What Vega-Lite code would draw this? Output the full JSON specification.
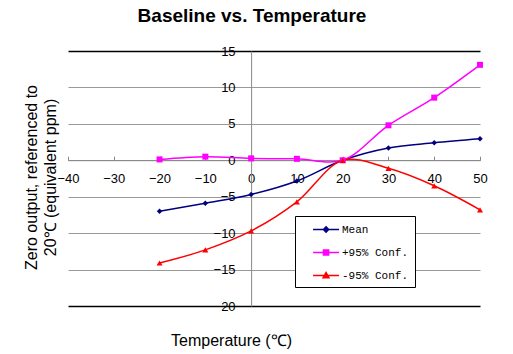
{
  "$schema": "https://vega.github.io/schema/vega-lite/v6.json",
  "width": 412,
  "height": 255,
  "autosize": {"type": "none"},
  "padding": {"left": 68, "top": 51, "right": 33, "bottom": 48},
  "background": "white",
  "title": {
    "text": "Baseline vs. Temperature",
    "font": "Liberation Sans",
    "fontSize": 19,
    "fontWeight": "bold",
    "color": "black",
    "anchor": "middle",
    "dx": -22,
    "baseline": "alphabetic",
    "offset": 4.5
  },
  "data": {
    "values": [
      {"t": -20, "v": -7.0, "s": "Mean"},
      {"t": -10, "v": -5.9, "s": "Mean"},
      {"t": 0, "v": -4.7, "s": "Mean"},
      {"t": 10, "v": -2.85, "s": "Mean"},
      {"t": 20, "v": 0, "s": "Mean"},
      {"t": 30, "v": 1.7, "s": "Mean"},
      {"t": 40, "v": 2.4, "s": "Mean"},
      {"t": 50, "v": 2.95, "s": "Mean"},
      {"t": -20, "v": 0.12, "s": "+95% Conf."},
      {"t": -10, "v": 0.5, "s": "+95% Conf."},
      {"t": 0, "v": 0.26, "s": "+95% Conf."},
      {"t": 10, "v": 0.2, "s": "+95% Conf."},
      {"t": 20, "v": 0, "s": "+95% Conf."},
      {"t": 30, "v": 4.8, "s": "+95% Conf."},
      {"t": 40, "v": 8.6, "s": "+95% Conf."},
      {"t": 50, "v": 13.1, "s": "+95% Conf."},
      {"t": -20, "v": -14.1, "s": "-95% Conf."},
      {"t": -10, "v": -12.3, "s": "-95% Conf."},
      {"t": 0, "v": -9.7, "s": "-95% Conf."},
      {"t": 10, "v": -5.7, "s": "-95% Conf."},
      {"t": 20, "v": 0, "s": "-95% Conf."},
      {"t": 30, "v": -1.1, "s": "-95% Conf."},
      {"t": 40, "v": -3.5, "s": "-95% Conf."},
      {"t": 50, "v": -6.8, "s": "-95% Conf."}
    ]
  },
  "encoding": {
    "x": {
      "field": "t",
      "type": "quantitative",
      "scale": {"domain": [-40, 50], "nice": false, "zero": false},
      "axis": {
        "orient": "bottom",
        "offset": -145.8,
        "values": [-40, -30, -20, -10, 0, 10, 20, 30, 40, 50],
        "grid": false,
        "title": "Temperature (℃)",
        "titleX": 163,
        "titleY": 180,
        "titleAlign": "center",
        "titleBaseline": "middle",
        "titleFont": "Liberation Sans",
        "titleFontSize": 16,
        "titleFontWeight": "normal",
        "titleColor": "black",
        "labelFont": "Liberation Sans",
        "labelFontSize": 13,
        "labelColor": "black",
        "labelFlush": false,
        "labelOverlap": false,
        "tickSize": -4,
        "tickColor": "#888888",
        "labelPadding": 16,
        "domainColor": "#888888"
      }
    },
    "y": {
      "field": "v",
      "type": "quantitative",
      "scale": {"domain": [-20, 15], "nice": false, "zero": false},
      "axis": {
        "orient": "left",
        "offset": -183.1,
        "values": [-20, -15, -10, -5, 0, 5, 10, 15],
        "grid": true,
        "gridColor": {"condition": {"test": "datum.value == 15 || datum.value == -20", "value": "black"}, "value": "#999999"},
        "gridWidth": {"condition": {"test": "datum.value == 15 || datum.value == -20", "value": 1.5}, "value": 1},
        "ticks": false,
        "labelPadding": 16,
        "labelFont": "Liberation Sans",
        "labelFontSize": 13,
        "labelColor": "black",
        "labelFlush": false,
        "labelOverlap": false,
        "domainColor": "#888888",
        "title": ["Zero output, referenced to", "20℃ (equivalent ppm)"],
        "titleX": -212,
        "titleY": 126,
        "titleAngle": -90,
        "titleAlign": "center",
        "titleBaseline": "bottom",
        "titleFont": "Liberation Sans",
        "titleFontSize": 16,
        "titleFontWeight": "normal",
        "titleLineHeight": 19,
        "titleColor": "black"
      }
    },
    "color": {
      "field": "s",
      "type": "nominal",
      "scale": {"domain": ["Mean", "+95% Conf.", "-95% Conf."], "range": ["#000080", "#FF00FF", "#FF0000"]},
      "legend": {
        "orient": "none",
        "legendX": 227,
        "legendY": 165,
        "title": null,
        "strokeColor": "black",
        "fillColor": "white",
        "padding": 6,
        "labelFont": "Liberation Mono",
        "labelFontSize": 11,
        "labelColor": "black",
        "labelExpr": "datum.label + '  '",
        "symbolSize": 169,
        "rowPadding": 9,
        "labelOffset": 26,
        "symbolStrokeWidth": 1.5,
        "symbolType": "M0.7,0H4.7",
        "encode": {
          "symbols": {
            "update": {
              "shape": {"signal": "datum.value === 'Mean' ? 'M0.7,0H4.7M2.7,-0.4L3.1,0L2.7,0.4L2.3,0Z' : datum.value === '+95% Conf.' ? 'M0.7,0H4.7M2.3,-0.4H3.1V0.4H2.3Z' : 'M0.7,0H4.7M2.7,-0.45L3.15,0.35H2.25Z'"},
              "fill": {"scale": "color", "field": "value"},
              "fillOpacity": {"value": 1},
              "size": {"value": 169}
            }
          }
        }
      }
    }
  },
  "layer": [
    {
      "mark": {"type": "line", "interpolate": "catmull-rom", "strokeWidth": 1.5}
    },
    {
      "transform": [{"filter": "datum.s === 'Mean'"}],
      "mark": {"type": "point", "filled": true, "opacity": 1, "size": 30, "shape": "diamond"}
    },
    {
      "transform": [{"filter": "datum.s === '+95% Conf.'"}],
      "mark": {"type": "point", "filled": true, "opacity": 1, "size": 36, "shape": "square"}
    },
    {
      "transform": [{"filter": "datum.s === '-95% Conf.'"}],
      "mark": {"type": "point", "filled": true, "opacity": 1, "size": 36, "shape": "triangle-up"}
    }
  ],
  "config": {
    "view": {"stroke": null}
  }
}
